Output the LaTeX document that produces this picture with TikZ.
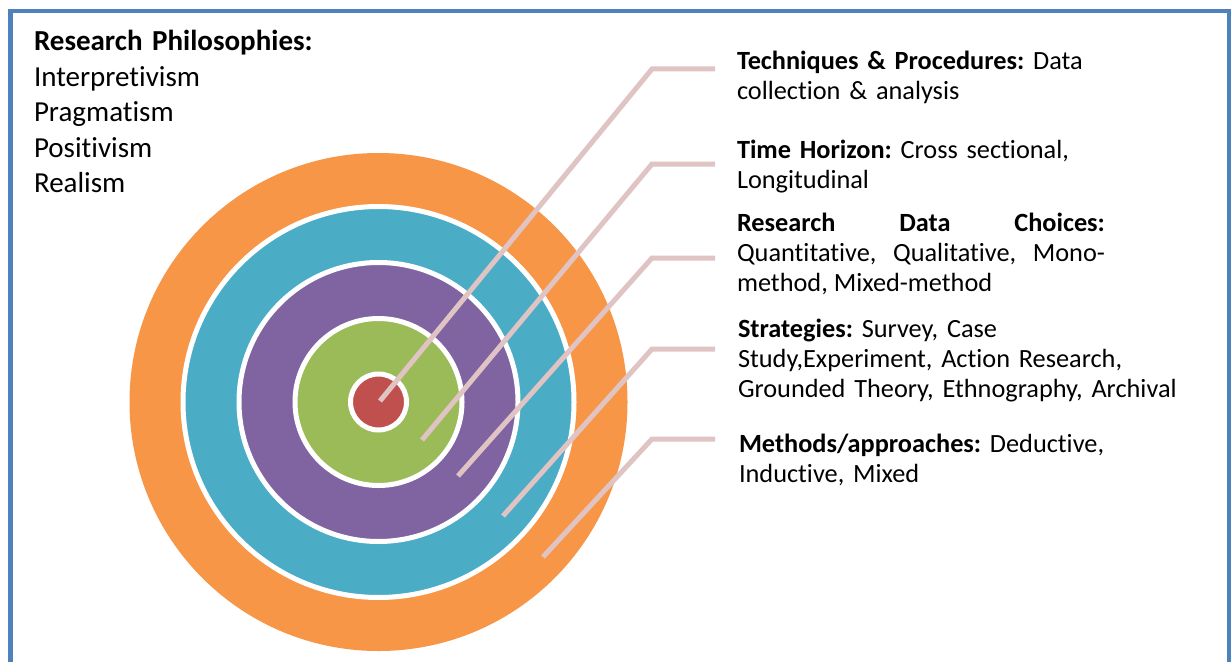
\documentclass[tikz,border=0pt]{standalone}
\usepackage{fontspec}
\setmainfont{Carlito}[Ligatures={NoCommon,NoContextual},RawFeature={-liga;-clig;-calt;-dlig}]
\frenchspacing
\newcommand{\nolig}{\kern0pt }
\definecolor{frameblue}{HTML}{4F81BD}
\definecolor{ringorange}{HTML}{F79646}
\definecolor{ringteal}{HTML}{4BACC6}
\definecolor{ringpurple}{HTML}{8064A2}
\definecolor{ringgreen}{HTML}{9BBB59}
\definecolor{ringred}{HTML}{C0504D}
\definecolor{leader}{HTML}{E0C3C3}
\begin{document}
\begin{tikzpicture}[x=1pt,y=-1pt,
  ring/.style={draw=white,line width=5pt},
  leaderline/.style={draw=leader,line width=5pt,line join=miter},
  righttext/.style={anchor=base west,inner sep=0pt,outer sep=0pt,align=left,
    font=\fontsize{26.3}{30}\selectfont},
  lefttext/.style={anchor=base west,inner sep=0pt,outer sep=0pt,align=left,text width=320pt,
    font=\fontsize{29}{35.5}\selectfont}]
\useasboundingbox (0,0) rectangle (1231,661);
\clip (0,0) rectangle (1231,661);
\fill[white] (0,0) rectangle (1231,661);
\draw[frameblue,line width=4.5pt] (10.5,11) rectangle (1229.5,720);

% target rings
\coordinate (c) at (378.5,402);
\fill[ringorange] (c) circle[radius=249];
\path[ring,fill=ringteal] (c) circle[radius=195.5];
\path[ring,fill=ringpurple] (c) circle[radius=139.5];
\path[ring,fill=ringgreen] (c) circle[radius=83.5];
\path[ring,fill=ringred] (c) circle[radius=28];

% text
\node[lefttext] (phil) at (34,51) {\textbf{Research Philosophies:}\\Interpret\nolig ivism\\Pragmat\nolig ism\\Posit\nolig ivism\\Realism};

\node[righttext,text width=440pt] (tech) at (737,69.6) {\textbf{Techniques \& Procedures:} Data\\collect\nolig ion \& analysis};
\node[righttext,text width=440pt] (time) at (737,158.7) {\textbf{Time Horizon:} Cross sect\nolig ional,\\Longitudinal};
\node[righttext,text width=368pt,align=justify] (data) at (737,231.5) {\textbf{Research Data Choices:}\linebreak Quant\nolig itat\nolig ive, Qualitat\nolig ive, Mono-\linebreak method, Mixed-method};
\node[righttext,text width=460pt] (strat) at (738,337) {\textbf{Strategies:} Survey, Case\\Study,Experiment, Action Research,\\Grounded Theory, Ethnography, Archival};
\node[righttext,text width=440pt] (meth) at (739,452.4) {\textbf{Methods/approaches:} Deduct\nolig ive,\\Induct\nolig ive, Mixed};

% leader lines
\coordinate (s1) at (380,401);   \coordinate (k1) at (652,69);  \coordinate (e1) at (715,69);
\coordinate (s2) at (422,440);   \coordinate (k2) at (652,164); \coordinate (e2) at (715,164);
\coordinate (s3) at (458,476);   \coordinate (k3) at (652,258); \coordinate (e3) at (715,258);
\coordinate (s4) at (503,516);   \coordinate (k4) at (652,349); \coordinate (e4) at (715,349);
\coordinate (s5) at (543,557);   \coordinate (k5) at (652,439); \coordinate (e5) at (715,439);
\draw[leaderline] (s1) -- (k1) -- (e1);
\draw[leaderline] (s2) -- (k2) -- (e2);
\draw[leaderline] (s3) -- (k3) -- (e3);
\draw[leaderline] (s4) -- (k4) -- (e4);
\draw[leaderline] (s5) -- (k5) -- (e5);
\end{tikzpicture}
\end{document}
